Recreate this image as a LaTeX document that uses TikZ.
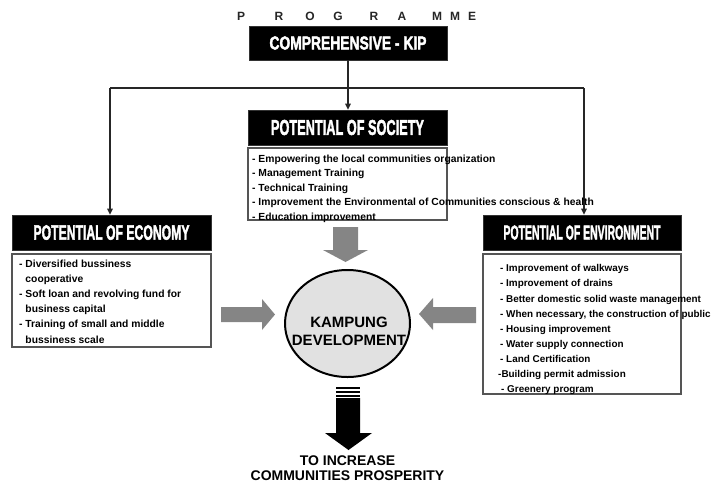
\documentclass[tikz,border=0pt]{standalone}
\usepackage{fontspec}
\setmainfont{Liberation Sans}
\newfontfamily\hdfont{Liberation Sans}[BoldFeatures={FakeBold=2.5}]
\usetikzlibrary{arrows.meta,shapes.geometric}
\definecolor{arrgray}{HTML}{858585}
\definecolor{ellfill}{HTML}{E1E1E1}
\definecolor{boxline}{HTML}{555555}
\newcommand{\hdtext}[3]{\resizebox{#1}{#2}{\hdfont\bfseries #3}}
\begin{document}
\begin{tikzpicture}[x=1pt,y=-1pt,
  hdr/.style={fill=black,text=white,inner sep=0pt,draw=black!80,line width=0.6pt},
  listbox/.style={draw=boxline,line width=1.1pt,inner sep=0pt},
  listtext/.style={anchor=north west,inner sep=0pt,align=left,text=black},
  conn/.style={line width=2pt,draw=black!85},
  arr/.style={conn,-{Triangle[length=6pt,width=5.5pt]}},
  letter/.style={inner sep=0pt,font=\fontsize{12}{12}\selectfont\bfseries,text=black!85}
]
\useasboundingbox (0,0) rectangle (715,483);
% PROGRAMME letters
\foreach \ch/\xx [count=\i] in {P/241,R/279,O/310,G/338,R/374,A/402,M/437,M/455,E/472}
  \node[letter] (pg\i) at (\xx,16) {\ch};
% Headers
\node[hdr,minimum width=198pt,minimum height=34pt] (comp) at (348,43)
  {\hdtext{157pt}{13pt}{COMPREHENSIVE - KIP}};
\node[hdr,minimum width=199pt,minimum height=35pt] (soc) at (347.5,127.5)
  {\hdtext{153pt}{15pt}{POTENTIAL OF SOCIETY}};
\node[hdr,minimum width=199pt,minimum height=35pt] (econ) at (111.5,232.5)
  {\hdtext{156pt}{14.5pt}{POTENTIAL OF ECONOMY}};
\node[hdr,minimum width=198pt,minimum height=35pt] (env) at (582,232.5)
  {\hdtext{157pt}{14pt}{POTENTIAL OF ENVIRONMENT}};
% Connectors
\coordinate (jl) at (110,88);
\coordinate (jr) at (584,88);
\draw[conn] (jl) -- (jr);
\draw[arr] (comp.south) -- (comp.south |- soc.north);
\draw[arr] (jl) -- (jl |- econ.north);
\draw[arr] (jr) -- (jr |- env.north);
% List boxes
\node[listbox,minimum width=199pt,minimum height=72pt] (socbox) at (347.5,184) {};
\node[listbox,minimum width=199pt,minimum height=93pt] (econbox) at (111.5,300.5) {};
\node[listbox,minimum width=198pt,minimum height=140pt] (envbox) at (582,324) {};
\node[listtext,font=\fontsize{10.3}{14.6}\selectfont\bfseries] (soctext) at (252,154.5)
  {- Empowering the local communities organization\\
   - Management Training\\
   - Technical Training\\
   - Improvement the Environmental of Communities conscious \& health\\
   - Education improvement};
\node[listtext,font=\fontsize{10.3}{15.2}\selectfont\bfseries] (econtext) at (19,259.5)
  {- Diversified bussiness\\
   \phantom{-}~cooperative\\
   - Soft loan and revolving fund for\\
   \phantom{-}~business capital\\
   - Training of small and middle\\
   \phantom{-}~bussiness scale};
\node[listtext,font=\fontsize{9.9}{15.1}\selectfont\bfseries] (envtext) at (500,264.5)
  {- Improvement of walkways\\
   - Improvement of drains\\
   - Better domestic solid waste management\\
   - When necessary, the construction of public\\
   - Housing improvement\\
   - Water supply connection\\
   - Land Certification\\
   \hspace*{-2pt}-Building permit admission\\
   \hspace*{1pt}- Greenery program};
% Gray block arrows
\fill[arrgray] (333,227) -- (358,227) -- (358,250) -- (368,250) -- (345.5,262) -- (323,250) -- (333,250) -- cycle;
\fill[arrgray] (221,307) -- (262,307) -- (262,299) -- (275,314.5) -- (262,330) -- (262,322) -- (221,322) -- cycle;
\fill[arrgray] (476,307) -- (433,307) -- (433,298) -- (419,314) -- (433,330) -- (433,323) -- (476,323) -- cycle;
% Ellipse
\node[ellipse,draw=black,line width=2pt,fill=ellfill,minimum width=125pt,minimum height=107pt,inner sep=0pt] (kd) at (347.5,323.5) {};
\node[inner sep=0pt,align=center,font=\fontsize{15}{18}\selectfont\bfseries] (kdtext) at (349,331.5)
  {KAMPUNG\\DEVELOPMENT};
% Black striped arrow
\fill[black] (336,387) rectangle (360,389);
\fill[black] (336,390.8) rectangle (360,392.8);
\fill[black] (336,394.5) rectangle (360,396.5);
\fill[black] (336,398) -- (360,398) -- (360,433) -- (372,433) -- (348.5,450) -- (325,433) -- (336,433) -- cycle;
% Result text
\node[inner sep=0pt,align=center,font=\fontsize{14}{15}\selectfont\bfseries] (res) at (347.5,468.5)
  {TO INCREASE\\COMMUNITIES PROSPERITY};
\end{tikzpicture}
\end{document}
